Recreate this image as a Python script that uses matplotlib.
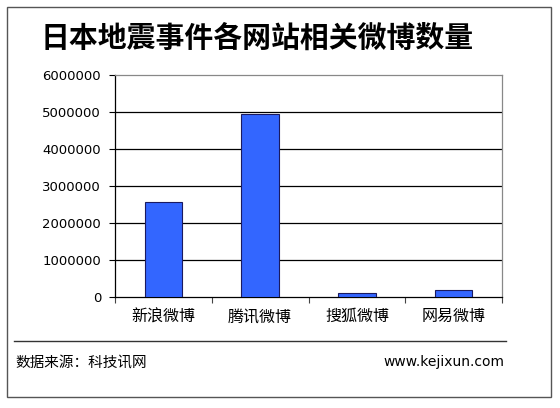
import matplotlib
matplotlib.use('Agg')
import matplotlib.pyplot as plt
import numpy as np
from matplotlib.patches import Rectangle
from matplotlib.lines import Line2D

plt.rcParams['font.family'] = ['Noto Sans CJK SC', 'DejaVu Sans']

title = '日本地震事件各网站相关微博数量'
sites = ['新浪微博', '腾讯微博', '搜狐微博', '网易微博']
counts = [2560000, 4950000, 110000, 190000]
yticks = [0, 1000000, 2000000, 3000000, 4000000, 5000000, 6000000]
source_text = '数据来源：科技讯网'
site_url = 'www.kejixun.com'

W, H = 560, 408
fig = plt.figure(figsize=(W / 100, H / 100), dpi=100)
fig.patch.set_facecolor('white')

# outer frame
fig.add_artist(Rectangle((7 / W, 1 - 397 / H), 544 / W, 390 / H,
                         transform=fig.transFigure, fill=False,
                         edgecolor='#555555', linewidth=1.0))

# plot area in pixels: left 115, right 502, top 75, bottom 297
ax = fig.add_axes([115 / W, 1 - 297 / H, 387 / W, 222 / H])
x = np.arange(len(sites))
ax.bar(x, counts, width=0.39, color='#3366ff', edgecolor='#1a1a60',
       linewidth=0.8, zorder=3)
ax.set_xlim(-0.5, len(sites) - 0.5)
ax.set_ylim(0, 6000000)
ax.set_yticks(yticks)
ax.set_yticklabels([str(v) for v in yticks], fontsize=9.5,
                   family=['DejaVu Sans'])
for v in yticks[1:-1]:
    ax.axhline(v, color='black', linewidth=0.9, zorder=1)

ax.set_xticks(x)
ax.set_xticklabels(sites, fontsize=11.5)
ax.tick_params(axis='x', length=0, pad=8)
ax.tick_params(axis='y', length=4, width=0.8, pad=6)
# category separators below the axis
ax.set_xticks(np.arange(len(sites) + 1) - 0.5, minor=True)
ax.tick_params(axis='x', which='minor', length=4, width=0.8, color='#444444')

ax.spines['left'].set_color('black')
ax.spines['bottom'].set_color('black')
ax.spines['top'].set_color('#888888')
ax.spines['right'].set_color('#888888')
for s in ax.spines.values():
    s.set_linewidth(0.9)

fig.text(257 / W, 1 - 38 / H, title, ha='center', va='center',
         fontsize=20.8, fontweight='bold')

# divider and footer
fig.add_artist(Line2D([14 / W, 506 / W], [1 - 341 / H, 1 - 341 / H],
                      transform=fig.transFigure, color='#333333', linewidth=1.0))
fig.text(15 / W, 1 - 363 / H, source_text, ha='left', va='center', fontsize=10.5)
fig.text(504 / W, 1 - 362 / H, site_url, ha='right', va='center', fontsize=10,
         family=['DejaVu Sans'])

fig.savefig('out.png', dpi=100)
